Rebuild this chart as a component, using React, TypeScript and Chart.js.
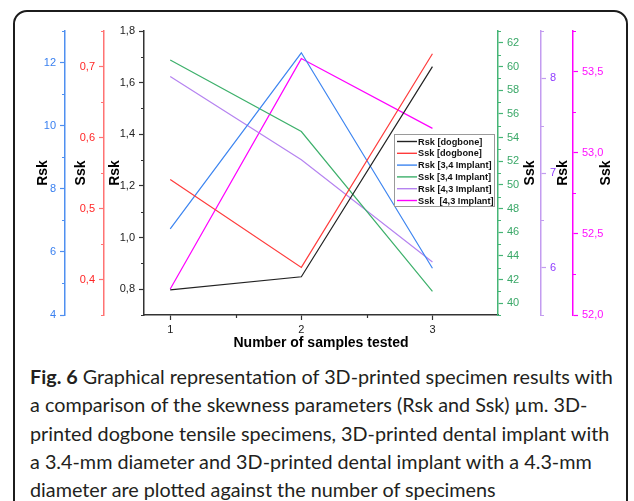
import React, { useEffect, useRef } from 'react';
import { Chart, registerables } from 'chart.js';

Chart.register(...registerables);

// ---- data ----
const samples = [1, 2, 3];
const rskDogbone = [0.797, 0.848, 1.662];
const sskDogbone = [0.541, 0.417, 0.718];
const rskImplant34 = [6.73, 12.31, 5.48];
const sskImplant34 = [60.55, 54.5, 41.0];
const rskImplant43 = [8.02, 7.14, 6.06];
const sskImplant43 = [52.16, 53.58, 53.15];

const seriesNames = [
  'Rsk [dogbone]',
  'Ssk [dogbone]',
  'Rsk [3,4 Implant]',
  'Ssk [3,4 Implant]',
  'Rsk [4,3 Implant]',
  'Ssk  [4,3 Implant]',
];

// ---- tick labels ----
const xTicks = [1, 2, 3];
const xMinor = [1.5, 2.5];
const blackTicks = [0.8, 1.0, 1.2, 1.4, 1.6, 1.8];
const blackMinor = [0.7, 0.9, 1.1, 1.3, 1.5, 1.7];
const redTicks = [0.4, 0.5, 0.6, 0.7];
const redMinor = [0.35, 0.45, 0.55, 0.65, 0.75];
const blueTicks = [4, 6, 8, 10, 12];
const blueMinor = [5, 7, 9, 11, 13];
const greenTicks = [40, 42, 44, 46, 48, 50, 52, 54, 56, 58, 60, 62];
const greenMinor = [39, 41, 43, 45, 47, 49, 51, 53, 55, 57, 59, 61, 63];
const purpleTicks = [6, 7, 8];
const purpleMinor = [5.5, 6.5, 7.5, 8.5];
const magentaTicks = [52.0, 52.5, 53.0, 53.5];
const magentaMinor = [52.25, 52.75, 53.25, 53.75];

const FONT = '"Liberation Sans", Arial, Helvetica, sans-serif';

const comma = (v: number) => v.toFixed(1).replace('.', ',');
const int = (v: number) => String(Math.round(v));

type AxisDef = {
  id: string;
  position: 'left' | 'right';
  weight: number;
  min: number;
  max: number;
  width: number;
  major: number[];
  minor: number[];
  fmt: (v: number) => string;
  line: string;
  label: string;
  title: string;
  titleX: number;
};

const axes: AxisDef[] = [
  { id: 'yBlack', position: 'left', weight: 0, min: 0.7, max: 1.8, width: 40, major: blackTicks, minor: blackMinor, fmt: comma, line: '#333333', label: '#222222', title: 'Rsk', titleX: 11 },
  { id: 'yRed', position: 'left', weight: 1, min: 0.35, max: 0.75, width: 39, major: redTicks, minor: redMinor, fmt: comma, line: '#ff7373', label: '#ff2626', title: 'Ssk', titleX: 16 },
  { id: 'yBlue', position: 'left', weight: 2, min: 4, max: 13, width: 47, major: blueTicks, minor: blueMinor, fmt: int, line: '#4f8ff0', label: '#3a80f0', title: 'Rsk', titleX: 25 },
  { id: 'yGreen', position: 'right', weight: 0, min: 39, max: 63, width: 43, major: greenTicks, minor: greenMinor, fmt: int, line: '#45b576', label: '#3aa868', title: 'Ssk', titleX: 32 },
  { id: 'yPurple', position: 'right', weight: 1, min: 5.5, max: 8.5, width: 32, major: purpleTicks, minor: purpleMinor, fmt: int, line: '#c39cf0', label: '#8f3cff', title: 'Rsk', titleX: 22 },
  { id: 'yMagenta', position: 'right', weight: 2, min: 52.0, max: 53.75, width: 53, major: magentaTicks, minor: magentaMinor, fmt: comma, line: '#ff00ff', label: '#ff10ff', title: 'Ssk', titleX: 33 },
];

const seriesDefs = [
  { data: rskDogbone, axis: 'yBlack', color: '#222222' },
  { data: sskDogbone, axis: 'yRed', color: '#ff3b3b' },
  { data: rskImplant34, axis: 'yBlue', color: '#3d85f0' },
  { data: sskImplant34, axis: 'yGreen', color: '#3db06b' },
  { data: rskImplant43, axis: 'yPurple', color: '#b583f0' },
  { data: sskImplant43, axis: 'yMagenta', color: '#ff00ff' },
];

const decorPlugin = {
  id: 'decor',
  afterDraw(chart: any) {
    const ctx: CanvasRenderingContext2D = chart.ctx;
    ctx.save();
    // minor ticks + rotated titles for y axes
    for (const a of axes) {
      const s = chart.scales[a.id];
      ctx.strokeStyle = a.line;
      ctx.lineWidth = 1.2;
      ctx.beginPath();
      for (const v of a.minor) {
        const y = Math.round(s.getPixelForValue(v)) + 0.5;
        if (a.position === 'left') {
          ctx.moveTo(s.right, y);
          ctx.lineTo(s.right - 3, y);
        } else {
          ctx.moveTo(s.left, y);
          ctx.lineTo(s.left + 3, y);
        }
      }
      ctx.stroke();
      ctx.save();
      ctx.translate(s.left + a.titleX, (s.top + s.bottom) / 2);
      ctx.rotate(-Math.PI / 2);
      ctx.font = `bold 14px ${FONT}`;
      ctx.fillStyle = '#000';
      ctx.textAlign = 'center';
      ctx.textBaseline = 'middle';
      ctx.fillText(a.title, 0, 0);
      ctx.restore();
    }
    // x minor ticks
    const xs = chart.scales.x;
    ctx.strokeStyle = '#333333';
    ctx.lineWidth = 1.2;
    ctx.beginPath();
    for (const v of xMinor) {
      const x = Math.round(xs.getPixelForValue(v)) + 0.5;
      ctx.moveTo(x, xs.top);
      ctx.lineTo(x, xs.top + 3);
    }
    ctx.stroke();

    // legend
    const area = chart.chartArea;
    const bx = area.right - 104;
    const by = area.top + 103;
    const bw = 100;
    const bh = 72;
    ctx.fillStyle = '#ffffff';
    ctx.fillRect(bx, by, bw, bh);
    ctx.strokeStyle = '#9a9a9a';
    ctx.lineWidth = 1;
    ctx.strokeRect(bx + 0.5, by + 0.5, bw, bh);
    ctx.font = `bold 9.2px ${FONT}`;
    ctx.textAlign = 'left';
    ctx.textBaseline = 'middle';
    seriesDefs.forEach((sd, i) => {
      const y = by + 7.5 + i * 11.8;
      ctx.strokeStyle = sd.color;
      ctx.lineWidth = 1.4;
      ctx.beginPath();
      ctx.moveTo(bx + 3, y);
      ctx.lineTo(bx + 23, y);
      ctx.stroke();
      ctx.fillStyle = '#111111';
      ctx.fillText(seriesNames[i], bx + 24, y + 0.5);
    });
    ctx.restore();
  },
};

function ChartView() {
  const ref = useRef<HTMLCanvasElement | null>(null);
  useEffect(() => {
    if (!ref.current) return;
    const scales: any = {
      x: {
        type: 'linear',
        position: 'bottom',
        min: 0.8,
        max: 3.5,
        afterFit: (s: any) => { s.height = 45; },
        afterBuildTicks: (s: any) => { s.ticks = xTicks.map((v) => ({ value: v })); },
        ticks: { color: '#222', font: { family: FONT, size: 11 }, padding: 3, autoSkip: false, maxRotation: 0, callback: (v: any) => int(Number(v)) },
        grid: { drawOnChartArea: false, drawTicks: true, tickLength: 5, tickColor: '#333333', tickWidth: 1.2 },
        border: { display: true, color: '#333333', width: 1.5 },
        title: { display: true, text: 'Number of samples tested', color: '#000', font: { family: FONT, size: 14, weight: 'bold' }, padding: { top: 0, bottom: 8 } },
      },
    };
    for (const a of axes) {
      scales[a.id] = {
        type: 'linear',
        position: a.position,
        weight: a.weight,
        min: a.min,
        max: a.max,
        afterFit: (s: any) => { s.width = a.width; },
        afterBuildTicks: (s: any) => { s.ticks = a.major.map((v) => ({ value: v })); },
        ticks: { color: a.label, font: { family: FONT, size: 11 }, padding: 4, autoSkip: false, callback: (v: any) => a.fmt(Number(v)) },
        grid: { drawOnChartArea: false, drawTicks: true, tickLength: 5, tickColor: a.line, tickWidth: 1.2 },
        border: { display: true, color: a.line, width: 1.5 },
        title: { display: false, text: a.title },
      };
    }
    const chart = new Chart(ref.current, {
      type: 'line',
      data: {
        datasets: seriesDefs.map((sd, i) => ({
          label: seriesNames[i],
          data: samples.map((x, j) => ({ x, y: sd.data[j] })),
          yAxisID: sd.axis,
          xAxisID: 'x',
          borderColor: sd.color,
          backgroundColor: sd.color,
          borderWidth: 1.2,
          pointRadius: 0,
          tension: 0,
          fill: false,
        })),
      },
      options: {
        animation: false,
        responsive: false,
        devicePixelRatio: 1,
        layout: { padding: { left: 18, right: 8, top: 31, bottom: 0 } },
        plugins: { legend: { display: false }, tooltip: { enabled: false }, title: { display: false } },
        scales,
      },
      plugins: [decorPlugin],
    } as any);
    return () => chart.destroy();
  }, []);
  return (
    <canvas
      ref={ref}
      width={634}
      height={360}
      style={{ position: 'absolute', left: 0, top: 0, width: 634, height: 360 }}
    />
  );
}

const captionLines: React.ReactNode[] = [
  <><b>Fig. 6</b> Graphical representation of 3D-printed specimen results with</>,
  <>a comparison of the skewness parameters (Rsk and Ssk) µm. 3D-</>,
  <>printed dogbone tensile specimens, 3D-printed dental implant with</>,
  <>a 3.4-mm diameter and 3D-printed dental implant with a 4.3-mm</>,
  <>diameter are plotted against the number of specimens</>,
];

export default function App() {
  return (
    <div style={{ position: 'fixed', left: 0, top: 0, width: 634, height: 501, overflow: 'hidden', background: '#fff' }}>
      <div
        style={{
          position: 'absolute', left: 13, top: 10, width: 615, height: 600,
          border: '2px solid #1c1c1c', borderRadius: 14, boxSizing: 'border-box',
        }}
      />
      <ChartView />
      <div
        style={{
          position: 'absolute', left: 30, top: 362,
          fontFamily: 'Lato, "Open Sans", sans-serif', fontSize: 19.8, lineHeight: '28.3px', color: '#231f20',
          whiteSpace: 'nowrap',
        }}
      >
        {captionLines.map((l, i) => (<div key={i}>{l}</div>))}
      </div>
    </div>
  );
}
